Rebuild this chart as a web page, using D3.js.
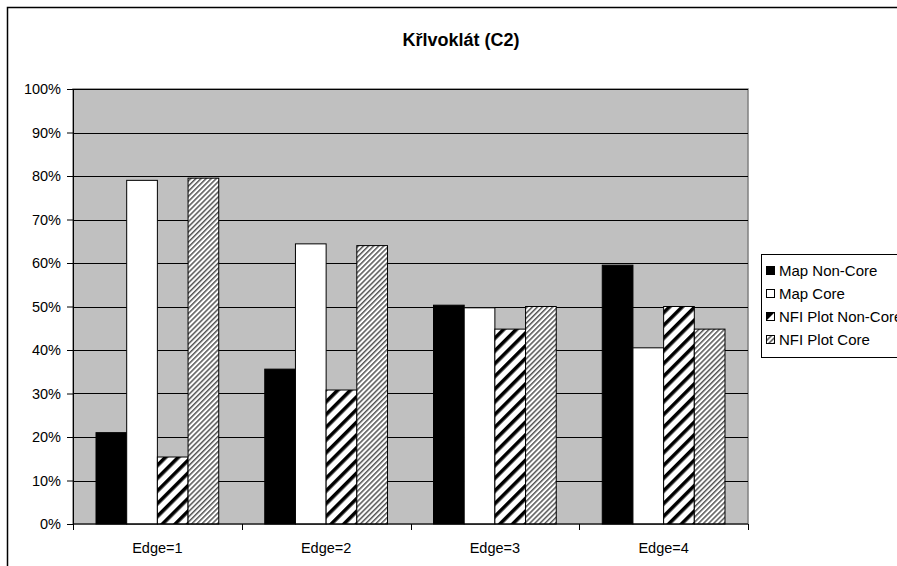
<!DOCTYPE html>
<html>
<head>
<meta charset="utf-8">
<script src="https://cdn.jsdelivr.net/npm/d3@7"></script>
<style>
  html, body { margin: 0; padding: 0; background: #fff; }
  svg { display: block; font-family: "Liberation Sans", Arial, sans-serif; }
</style>
</head>
<body>
<svg id="chart" width="897" height="566"></svg>
<script>
// Share of edge classes, Křivoklát site (C2)
const categories = ["Edge=1", "Edge=2", "Edge=3", "Edge=4"];
const seriesNames = ["Map Non-Core", "Map Core", "NFI Plot Non-Core", "NFI Plot Core"];
const mapNonCore = [21.0, 35.6, 50.3, 59.5];
const mapCore = [79.0, 64.4, 49.7, 40.5];
const nfiNonCore = [15.4, 30.8, 44.8, 50.0];
const nfiCore = [79.5, 64.0, 50.0, 44.8];
const yTicks = [0, 10, 20, 30, 40, 50, 60, 70, 80, 90, 100];

const seriesValues = [mapNonCore, mapCore, nfiNonCore, nfiCore];

const svg = d3.select("#chart");
const defs = svg.append("defs");

// Wide black diagonal stripes
const pWide = defs.append("pattern")
  .attr("id", "hatchWide").attr("patternUnits", "userSpaceOnUse")
  .attr("width", 9).attr("height", 9)
  .attr("patternTransform", "rotate(45)");
pWide.append("rect").attr("width", 9).attr("height", 9).attr("fill", "#fff");
pWide.append("rect").attr("x", 0).attr("width", 3.6).attr("height", 9).attr("fill", "#000");

// Fine grey diagonal stripes
const pFine = defs.append("pattern")
  .attr("id", "hatchFine").attr("patternUnits", "userSpaceOnUse")
  .attr("width", 3.6).attr("height", 3.6)
  .attr("patternTransform", "rotate(45)");
pFine.append("rect").attr("width", 3.6).attr("height", 3.6).attr("fill", "#fff");
pFine.append("rect").attr("x", 0).attr("width", 1.5).attr("height", 3.6).attr("fill", "#555");

const fills = ["#000", "#fff", "url(#hatchWide)", "url(#hatchFine)"];

// Outer chart frame (runs off the right and bottom edges)
svg.append("rect")
  .attr("x", 7.5).attr("y", 7.5).attr("width", 1000).attr("height", 1000)
  .attr("fill", "none").attr("stroke", "#000").attr("stroke-width", 1.5);

// Title
svg.append("text")
  .attr("x", 461).attr("y", 46)
  .attr("text-anchor", "middle")
  .attr("font-size", 18).attr("font-weight", "bold")
  .text("Křlvoklát (C2)");

const plot = { left: 73, top: 89, right: 748, bottom: 524 };

const x0 = d3.scaleBand().domain(categories)
  .range([plot.left, plot.right]).paddingInner(0).paddingOuter(0);
const groupW = x0.bandwidth();
const barW = groupW / 5.5;
const x1 = d3.scaleBand().domain(d3.range(seriesNames.length))
  .range([barW * 0.75, barW * 0.75 + barW * 4]);

const y = d3.scaleLinear().domain([0, 100]).range([plot.bottom, plot.top]);

// Plot area background
svg.append("rect")
  .attr("x", plot.left).attr("y", plot.top)
  .attr("width", plot.right - plot.left).attr("height", plot.bottom - plot.top)
  .attr("fill", "#c0c0c0").attr("stroke", "#808080").attr("stroke-width", 1.5);

// Horizontal gridlines
svg.append("g").selectAll("line")
  .data(yTicks.filter(d => d > 0))
  .join("line")
  .attr("x1", plot.left).attr("x2", plot.right)
  .attr("y1", d => Math.round(y(d)) + 0.5).attr("y2", d => Math.round(y(d)) + 0.5)
  .attr("stroke", "#000").attr("stroke-width", 1);

// Bars
const groups = svg.append("g").selectAll("g")
  .data(categories)
  .join("g")
  .attr("transform", d => `translate(${x0(d)},0)`);

groups.selectAll("rect")
  .data((c, ci) => seriesValues.map((vals, si) => ({ si, v: vals[ci] })))
  .join("rect")
  .attr("x", d => x1(d.si))
  .attr("width", x1.bandwidth())
  .attr("y", d => y(d.v))
  .attr("height", d => y(0) - y(d.v))
  .attr("fill", d => fills[d.si])
  .attr("stroke", "#000").attr("stroke-width", 1);

// Y axis
const yAxis = svg.append("g")
  .attr("transform", `translate(${plot.left},0)`)
  .call(d3.axisLeft(y).tickValues(yTicks).tickSize(6).tickSizeOuter(0)
    .tickFormat(d => d + "%"));
yAxis.select(".domain").attr("stroke", "#000");
yAxis.selectAll(".tick line").attr("stroke", "#000");
yAxis.selectAll("text").attr("font-size", 14.5).attr("fill", "#000")
  .attr("font-family", "Liberation Sans, Arial, sans-serif").attr("x", -12);

// X axis with ticks between categories
const xAxisG = svg.append("g").attr("transform", `translate(0,${plot.bottom})`);
xAxisG.append("line")
  .attr("x1", plot.left).attr("x2", plot.right)
  .attr("stroke", "#000").attr("stroke-width", 1);
const boundaries = categories.map(c => x0(c)).concat([plot.right]);
xAxisG.selectAll("line.tk")
  .data(boundaries)
  .join("line").attr("class", "tk")
  .attr("x1", d => Math.round(d) + 0.5).attr("x2", d => Math.round(d) + 0.5)
  .attr("y1", 0).attr("y2", 6)
  .attr("stroke", "#000");
xAxisG.selectAll("text")
  .data(categories)
  .join("text")
  .attr("x", d => x0(d) + groupW / 2)
  .attr("y", 29)
  .attr("text-anchor", "middle")
  .attr("font-size", 14.5)
  .text(d => d);

// Legend
const legend = svg.append("g");
legend.append("rect")
  .attr("x", 761.5).attr("y", 254.5).attr("width", 200).attr("height", 103)
  .attr("fill", "#fff").attr("stroke", "#000").attr("stroke-width", 1);
const legendY = [271, 294, 317, 340];
const items = legend.selectAll("g.item")
  .data(seriesNames)
  .join("g").attr("class", "item")
  .attr("transform", (d, i) => `translate(766,${legendY[i]})`);
items.append("rect")
  .attr("x", 0.5).attr("y", -4.5).attr("width", 8).attr("height", 8)
  .attr("fill", (d, i) => i === 2 ? "#fff" : fills[i])
  .attr("stroke", "#000");
items.filter((d, i) => i === 2).append("path")
  .attr("d", "M0.5,3.5 L0.5,-4.5 L8.5,-4.5 Z").attr("fill", "#000");
items.append("text")
  .attr("x", 13).attr("y", 5)
  .attr("font-size", 15)
  .text(d => d);
</script>
</body>
</html>
